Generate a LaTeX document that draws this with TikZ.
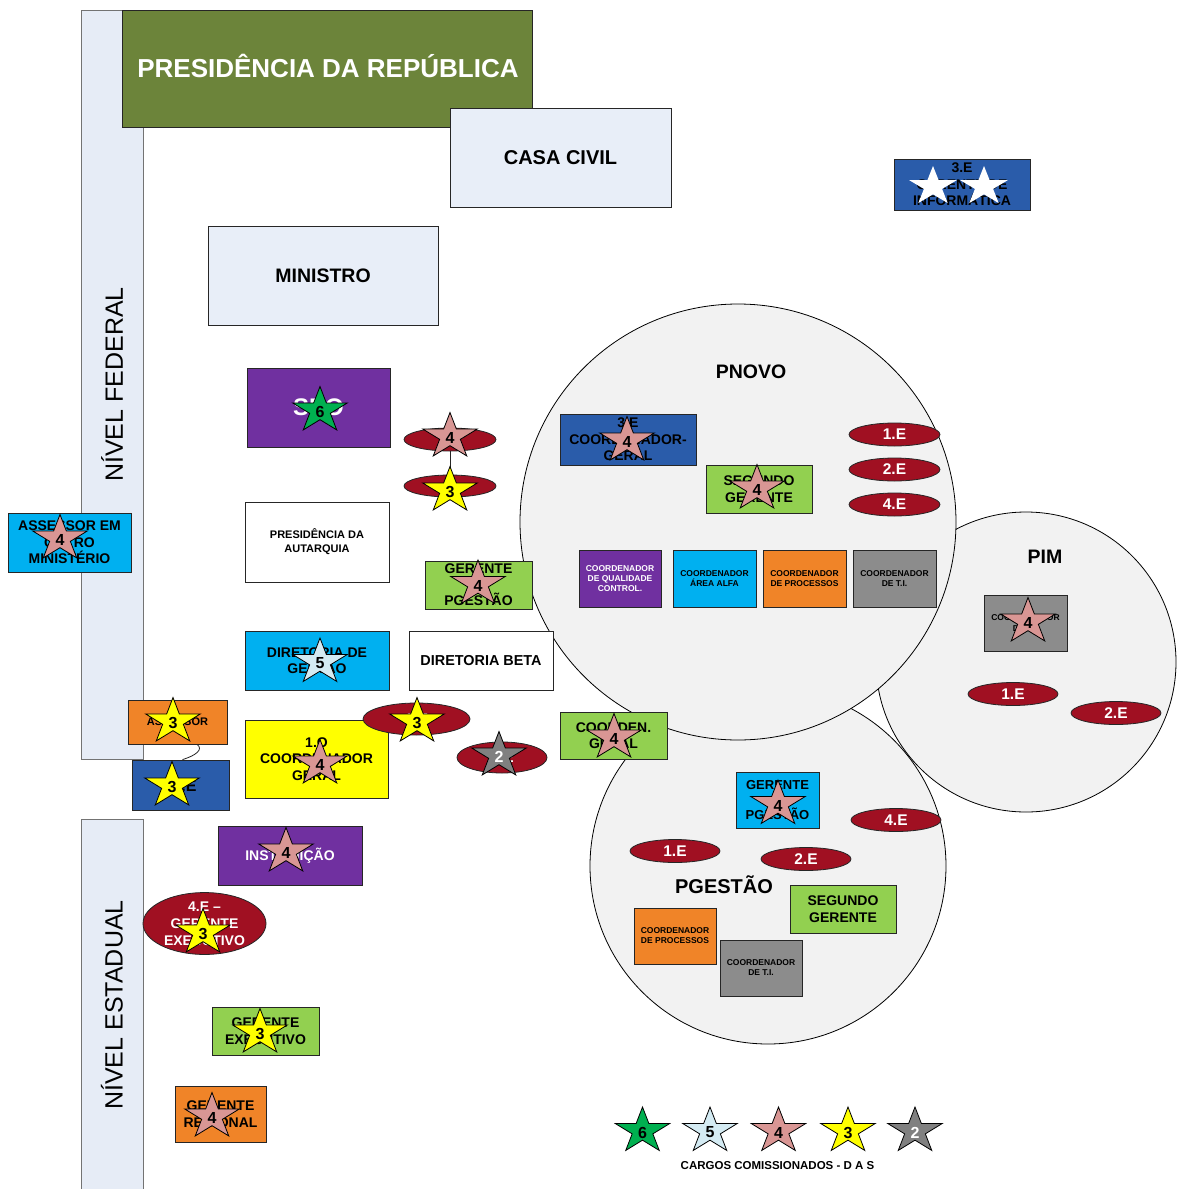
\documentclass[tikz,border=0pt]{standalone}
\usepackage{fontspec}
\setmainfont{Liberation Sans}
\usetikzlibrary{shapes.geometric,calc}

\definecolor{olive}{RGB}{108,132,58}
\definecolor{pale}{RGB}{232,238,248}
\definecolor{bandfill}{RGB}{230,236,246}
\definecolor{purp}{RGB}{112,48,160}
\definecolor{cyanbox}{RGB}{0,176,240}
\definecolor{lgreen}{RGB}{146,208,80}
\definecolor{orng}{RGB}{240,132,40}
\definecolor{dblue}{RGB}{42,92,170}
\definecolor{gry}{RGB}{140,140,140}
\definecolor{darkred}{RGB}{160,16,34}
\definecolor{zonefill}{RGB}{242,242,242}
\definecolor{sgreen}{RGB}{0,176,80}
\definecolor{sblue}{RGB}{212,235,243}
\definecolor{spink}{RGB}{217,150,148}
\definecolor{syellow}{RGB}{255,255,0}
\definecolor{sgray}{RGB}{128,128,128}

% rectangular unit given by its corners: options, name, x1, y1, x2, y2, then {text};
\newcommand\orgbox[6]{%
  \pgfmathsetmacro\bw{#5-#3}\pgfmathsetmacro\bh{#6-#4}%
  \pgfmathsetmacro\bx{(#3+#5)/2}\pgfmathsetmacro\by{(#4+#6)/2}%
  \node[box,#1,minimum width=\bw pt,minimum height=\bh pt] (#2) at (\bx,\by)}

% DAS rank star: name, x, y, fill, number, number colour
\newcommand\dasstar[6]{%
  \begin{scope}[shift={(#2,#3)}, xscale=28.5, yscale=24]
    \draw[starline, fill=#4] (-90:1) -- (-54:.382) -- (-18:1) -- (18:.382) -- (54:1)
      -- (90:.382) -- (126:1) -- (162:.382) -- (198:1) -- (234:.382) -- cycle;
  \end{scope}
  \node[num, text=#6] (#1) at (#2,#3+1.5) {#5};}

% plain white star without number
\newcommand\whitestar[2]{%
  \begin{scope}[shift={(#1,#2)}, xscale=25, yscale=20.5]
    \fill[white] (-90:1) -- (-54:.382) -- (-18:1) -- (18:.382) -- (54:1)
      -- (90:.382) -- (126:1) -- (162:.382) -- (198:1) -- (234:.382) -- cycle;
  \end{scope}}

\begin{document}
\begin{tikzpicture}[x=1pt,y=-1pt,
  box/.style={draw=black!85, line width=0.8pt, align=center, inner sep=0pt,
    font=\bfseries\fontsize{14}{16.5}\selectfont},
  small/.style={font=\bfseries\fontsize{8.5}{10}\selectfont},
  band/.style={draw=black!55, line width=0.8pt, fill=bandfill, inner sep=0pt},
  bandtext/.style={rotate=90, font=\fontsize{25}{30}\selectfont, inner sep=0pt},
  oval/.style={ellipse, draw=black!85, line width=0.8pt, fill=darkred, text=white,
    align=center, inner sep=0pt, font=\bfseries\fontsize{15.5}{18}\selectfont},
  zone/.style={circle, draw=black, line width=0.8pt, fill=zonefill, inner sep=0pt},
  title/.style={font=\bfseries\fontsize{19.5}{22}\selectfont, inner sep=0pt},
  num/.style={font=\bfseries\fontsize{16}{16}\selectfont, inner sep=0pt},
  starline/.style={draw=black, line width=0.8pt, line join=miter},
  link/.style={draw=black!85, line width=0.8pt}]

\useasboundingbox (0,0) rectangle (1183,1189);
\fill[white] (0,0) rectangle (1183,1189);

% government level bands
\node[band, minimum width=62pt, minimum height=749pt] (fed) at (112,384.5) {};
\node[bandtext] (fedt) at (fed.center) {NÍVEL FEDERAL};
\node[band, minimum width=62pt, minimum height=380pt] (est) at (112,1009) {};
\node[bandtext] (estt) at (112,1005) {NÍVEL ESTADUAL};

% top of the hierarchy
\orgbox{fill=olive}{pres}{122}{10}{532}{127}{};
\node[text=white, font=\bfseries\fontsize{26}{30}\selectfont, inner sep=0pt] (prest) at (328,66) {PRESIDÊNCIA DA REPÚBLICA};
\orgbox{fill=pale, font=\bfseries\fontsize{20}{24}\selectfont}{casa}{450}{108}{671}{207}{CASA CIVIL};
\orgbox{fill=pale, font=\bfseries\fontsize{19.5}{23}\selectfont}{min}{208}{226}{438}{325}{MINISTRO};
\orgbox{fill=dblue}{secinf}{894}{159}{1030}{210}{3.E\\GERENTE DE\\INFORMÁTICA};
\whitestar{933}{186.5}
\whitestar{984}{186.5}

% program zones
\node[zone, minimum size=300pt] (pim) at (1026,662) {};
\node[zone, minimum size=356pt] (pgest) at (768,866) {};
\node[zone, minimum size=436pt] (pnovo) at (738,522) {};
\node[title] (pnovot) at (751,372) {PNOVO};
\node[title] (pimt) at (1045,557) {PIM};
\node[title, font=\bfseries\fontsize{20}{22}\selectfont] (pgestt) at (724,885) {PGESTÃO};

% federal units
\orgbox{fill=purp, text=white, font=\bfseries\fontsize{24}{28}\selectfont}{spo}{247}{368}{390}{447}{SPO};
\node[oval, minimum width=92pt, minimum height=23pt] (e4a) at (450,439.5) {};
\node[oval, minimum width=92pt, minimum height=22pt] (e3a) at (450,486) {};
\draw[link] (e4a.south) -- (e3a.north);
\orgbox{fill=white, font=\bfseries\fontsize{11}{14}\selectfont}{autq}{245}{502}{389}{582}{PRESIDÊNCIA DA\\AUTARQUIA};
\orgbox{fill=cyanbox}{assout}{8}{513}{131}{572}{ASSESSOR EM\\OUTRO\\MINISTÉRIO};
\orgbox{fill=lgreen}{gerpg}{425}{561}{532}{609}{GERENTE\\[15.5pt]PGESTÃO};
\orgbox{fill=cyanbox}{dirg}{245}{631}{389}{690}{DIRETORIA DE\\GESTÃO};
\orgbox{fill=white, font=\bfseries\fontsize{14.4}{17}\selectfont}{beta}{409}{631}{553}{690}{DIRETORIA BETA};
\orgbox{fill=orng, font=\bfseries\fontsize{11}{13}\selectfont}{assr}{128}{700}{227}{744}{ASSESSOR};
\orgbox{fill=dblue}{tre}{132}{760}{229}{810}{};
\node[font=\bfseries\fontsize{16}{18}\selectfont, inner sep=0pt] (tret) at ($(tre.center)+(4,1)$) {3.E};
\draw[link] ($(assr.south)+(19.5,0)$) .. controls +(7,5) and +(13,-4) .. ($(tre.north)+(2,0)$);
\orgbox{fill=syellow}{coo1}{245}{720}{388}{798}{1.O\\COORDENADOR\\GERAL};
\node[oval, minimum width=107pt, minimum height=32pt] (e1b) at (416.5,719) {1.E};
\node[oval, minimum width=90pt, minimum height=31pt] (e2b) at (502,757.5) {2.E};
\orgbox{fill=lgreen}{cgeral}{560}{712}{667}{759}{COORDEN.\\GERAL};

% PNOVO units
\orgbox{fill=dblue}{cgpn}{560}{414}{696}{465}{3.E\\COORDENADOR-\\GERAL};
\orgbox{fill=lgreen}{seg1}{706}{465}{812}{513}{SEGUNDO\\GERENTE};
\node[oval, minimum width=91pt, minimum height=23pt] (pn1) at (894.5,434.5) {1.E};
\node[oval, minimum width=91pt, minimum height=23pt] (pn2) at (894.5,469.5) {2.E};
\node[oval, minimum width=91pt, minimum height=23pt] (pn4) at (894.5,504.5) {4.E};
\orgbox{small, fill=purp, text=white}{cq}{579}{550}{661}{607}{COORDENADOR\\DE QUALIDADE\\CONTROL.};
\orgbox{small, fill=cyanbox}{ca}{673}{550}{756}{607}{COORDENADOR\\ÁREA ALFA};
\orgbox{small, fill=orng}{cp}{763}{550}{846}{607}{COORDENADOR\\DE PROCESSOS};
\orgbox{small, fill=gry}{ct}{853}{550}{936}{607}{COORDENADOR\\DE T.I.};

% PIM units
\orgbox{small, fill=gry, font=\bfseries\fontsize{8.5}{11}\selectfont}{ctpim}{984}{595}{1067}{651}{COORDENADOR\\DE T.I.};
\node[oval, minimum width=90pt, minimum height=23pt] (pim1) at (1013,694) {1.E};
\node[oval, minimum width=90pt, minimum height=23pt] (pim2) at (1116,713) {2.E};

% PGESTÃO units
\orgbox{fill=cyanbox, font=\bfseries\fontsize{13}{15.5}\selectfont}{gpg2}{736}{772}{819}{828}{GERENTE\\[14.5pt]PGESTÃO};
\node[oval, minimum width=90pt, minimum height=23pt] (pg4) at (896,820) {4.E};
\node[oval, minimum width=90pt, minimum height=23pt] (pg1) at (675,851) {1.E};
\node[oval, minimum width=90pt, minimum height=23pt] (pg2) at (806,859) {2.E};
\orgbox{fill=lgreen}{seg2}{790}{885}{896}{933}{SEGUNDO\\GERENTE};
\orgbox{small, fill=orng}{cp2}{634}{908}{716}{964}{COORDENADOR\\DE PROCESSOS};
\orgbox{small, fill=gry}{ct2}{720}{940}{802}{996}{COORDENADOR\\DE T.I.};

% state units
\orgbox{fill=purp, text=white}{inst}{218}{826}{362}{885}{INSTITUIÇÃO};
\node[oval, minimum width=123pt, minimum height=53pt, font=\bfseries\fontsize{14}{17}\selectfont] (e4e) at (204.5,923.5) {4.E –\\GERENTE\\EXECUTIVO};
\orgbox{fill=lgreen}{gerex}{212}{1007}{319}{1055}{GERENTE\\EXECUTIVO};
\orgbox{fill=orng}{gerreg}{175}{1086}{266}{1142}{GERENTE\\REGIONAL};

% DAS ranks
\dasstar{s6}{320}{410.5}{sgreen}{6}{black}
\dasstar{s4a}{450}{436.5}{spink}{4}{black}
\dasstar{s3a}{450}{490.5}{syellow}{3}{black}
\dasstar{s4b}{60}{538.5}{spink}{4}{black}
\dasstar{s4c}{478}{584}{spink}{4}{black}
\dasstar{s5}{320}{662}{sblue}{5}{black}
\dasstar{s3b}{173}{721.5}{syellow}{3}{black}
\dasstar{s3c}{172}{785.5}{syellow}{3}{black}
\dasstar{s4d}{320}{763.5}{spink}{4}{black}
\dasstar{s3d}{417}{721.5}{syellow}{3}{black}
\dasstar{s2}{499}{755.5}{sgray}{2}{white}
\dasstar{s4e}{614}{737.5}{spink}{4}{black}
\dasstar{s4h}{627}{440.5}{spink}{4}{black}
\dasstar{s4i}{757}{488.5}{spink}{4}{black}
\dasstar{s4j}{1028}{621.5}{spink}{4}{black}
\dasstar{s4k}{778}{804}{spink}{4}{black}
\dasstar{s4f}{286}{851.5}{spink}{4}{black}
\dasstar{s3e}{203}{932.5}{syellow}{3}{black}
\dasstar{s3f}{260}{1032.5}{syellow}{3}{black}
\dasstar{s4g}{212}{1116.5}{spink}{4}{black}

% legend
\dasstar{l6}{642.5}{1131}{sgreen}{6}{black}
\dasstar{l5}{710}{1131}{sblue}{5}{black}
\dasstar{l4}{778.5}{1131}{spink}{4}{black}
\dasstar{l3}{848}{1131}{syellow}{3}{black}
\dasstar{l2}{915}{1131}{sgray}{2}{white}
\node[font=\bfseries\fontsize{11.5}{13}\selectfont, inner sep=0pt] (leg) at (777.5,1166) {CARGOS COMISSIONADOS - D A S};

\end{tikzpicture}
\end{document}
